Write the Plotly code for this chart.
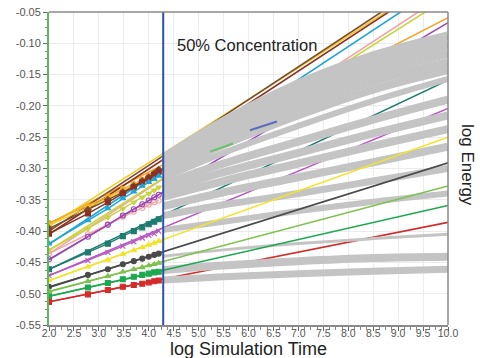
import plotly.graph_objects as go

# ---------------- data ----------------
x_data = [2.0, 2.78, 3.18, 3.48, 3.7, 3.87, 4.0, 4.11, 4.2]
x_fit = [2.0, 10.0]

series_names = ["orange", "gold", "brown", "maroon", "cyan", "pink", "yellowgreen",
                "purple", "teal", "magenta", "yellow", "darkgray", "lightgreen", "green", "red"]
series_colors = ["#f5a524", "#f0cc22", "#7a4a2c", "#8e2f22", "#1ea5d6", "#f2a3a6", "#c8d43c",
                 "#9a45b6", "#1d7b70", "#b658c2", "#f2e42a", "#4a4a4a", "#7cc24c", "#1ca84f", "#d42b2b"]
series_symbols = ["circle", "triangle-up", "diamond", "square", "triangle-up", "circle-open", "triangle-down",
                  "circle-open", "square", "x-thin-open", "triangle-up", "circle", "triangle-up", "square", "square"]
fit_on_top = [False, False, False, False, False, False, False,
              False, False, False, True, True, True, True, False]

data_orange      = [-0.387, -0.360, -0.345, -0.333, -0.325, -0.318, -0.312, -0.307, -0.302]
data_gold        = [-0.391, -0.362, -0.348, -0.336, -0.327, -0.320, -0.314, -0.309, -0.304]
data_brown       = [-0.396, -0.366, -0.350, -0.338, -0.328, -0.320, -0.314, -0.308, -0.302]
data_maroon      = [-0.404, -0.372, -0.354, -0.340, -0.330, -0.322, -0.316, -0.310, -0.305]
data_cyan        = [-0.420, -0.383, -0.364, -0.348, -0.337, -0.328, -0.322, -0.317, -0.312]
data_pink        = [-0.436, -0.405, -0.389, -0.377, -0.369, -0.363, -0.358, -0.354, -0.351]
data_yellowgreen = [-0.430, -0.396, -0.378, -0.364, -0.354, -0.346, -0.340, -0.335, -0.330]
data_purple      = [-0.445, -0.409, -0.390, -0.375, -0.365, -0.357, -0.351, -0.346, -0.342]
data_teal        = [-0.461, -0.434, -0.420, -0.408, -0.400, -0.394, -0.389, -0.385, -0.381]
data_magenta     = [-0.471, -0.447, -0.434, -0.424, -0.417, -0.411, -0.407, -0.404, -0.400]
data_yellow      = [-0.479, -0.457, -0.446, -0.437, -0.431, -0.426, -0.422, -0.419, -0.416]
data_darkgray    = [-0.489, -0.470, -0.461, -0.453, -0.448, -0.444, -0.441, -0.438, -0.436]
data_lightgreen  = [-0.496, -0.480, -0.472, -0.465, -0.461, -0.458, -0.455, -0.453, -0.451]
data_green       = [-0.504, -0.490, -0.483, -0.477, -0.473, -0.470, -0.468, -0.466, -0.465]
data_red         = [-0.513, -0.501, -0.494, -0.489, -0.486, -0.484, -0.482, -0.480, -0.479]

fit_orange      = [-0.388, -0.059]
fit_gold        = [-0.392, 0.013]
fit_brown       = [-0.400, 0.020]
fit_maroon      = [-0.405, 0.012]
fit_cyan        = [-0.421, 0.000]
fit_pink        = [-0.436, -0.019]
fit_yellowgreen = [-0.431, -0.027]
fit_purple      = [-0.446, -0.067]
fit_teal        = [-0.461, -0.159]
fit_magenta     = [-0.471, -0.204]
fit_yellow      = [-0.479, -0.250]
fit_darkgray    = [-0.490, -0.291]
fit_lightgreen  = [-0.497, -0.328]
fit_green       = [-0.504, -0.359]
fit_red         = [-0.513, -0.386]

all_data = [data_orange, data_gold, data_brown, data_maroon, data_cyan, data_pink, data_yellowgreen,
            data_purple, data_teal, data_magenta, data_yellow, data_darkgray, data_lightgreen, data_green, data_red]
all_fit = [fit_orange, fit_gold, fit_brown, fit_maroon, fit_cyan, fit_pink, fit_yellowgreen,
           fit_purple, fit_teal, fit_magenta, fit_yellow, fit_darkgray, fit_lightgreen, fit_green, fit_red]

# gray simulation traces (after 50% concentration)
x_gray = [4.3, 5.5, 7.0, 8.5, 10.0]
gray_bands = [
    [-0.283, -0.225, -0.165, -0.120, -0.088],
    [-0.288, -0.233, -0.177, -0.133, -0.102],
    [-0.294, -0.242, -0.189, -0.146, -0.116],
    [-0.300, -0.252, -0.202, -0.160, -0.131],
    [-0.306, -0.262, -0.215, -0.174, -0.143],
    [-0.315, -0.275, -0.232, -0.192, -0.157],
    [-0.325, -0.292, -0.257, -0.222, -0.190],
    [-0.335, -0.306, -0.275, -0.244, -0.215],
    [-0.345, -0.320, -0.292, -0.264, -0.237],
    [-0.360, -0.338, -0.314, -0.290, -0.265],
    [-0.375, -0.358, -0.340, -0.320, -0.300],
    [-0.398, -0.385, -0.368, -0.353, -0.340],
    [-0.440, -0.430, -0.420, -0.412, -0.405],
    [-0.462, -0.455, -0.448, -0.443, -0.441],
    [-0.478, -0.473, -0.468, -0.464, -0.461],
]
gray_widths = [9, 9, 9, 9, 8, 6, 8, 8, 8, 8, 7, 6, 3, 8, 7]

# short coloured stretches that show above the gray traces
seg_blue_x = [6.03, 6.57]
seg_blue_y = [-0.239, -0.225]
seg_green_x = [5.23, 5.69]
seg_green_y = [-0.273, -0.260]

marker_line_x = 4.29
y_ticks = [-0.55, -0.50, -0.45, -0.40, -0.35, -0.30, -0.25, -0.20, -0.15, -0.10, -0.05]
x_ticks = [2.0, 2.5, 3.0, 3.5, 4.0, 4.5, 5.0, 5.5, 6.0, 6.5, 7.0, 7.5, 8.0, 8.5, 9.0, 9.5, 10.0]

FONT = "Liberation Sans, Arial"

# ---------------- figure ----------------
fig = go.Figure()

def add_fit(fit, col):
    fig.add_trace(go.Scatter(x=x_fit, y=fit, mode="lines", line=dict(color=col, width=1.6),
                             showlegend=False))

# fit lines hidden by the gray simulation traces
for fit, col, top in zip(all_fit, series_colors, fit_on_top):
    if not top:
        add_fit(fit, col)

# gray simulation bands
for band, w in zip(gray_bands, gray_widths):
    fig.add_trace(go.Scatter(x=x_gray, y=band, mode="lines", line=dict(color="#c4c4c4", width=w),
                             line_shape="spline", hoverinfo="skip", showlegend=False))

# fit lines drawn over the gray
for fit, col, top in zip(all_fit, series_colors, fit_on_top):
    if top:
        add_fit(fit, col)

fig.add_trace(go.Scatter(x=seg_blue_x, y=seg_blue_y, mode="lines",
                         line=dict(color="#5a6fb8", width=2), showlegend=False))
fig.add_trace(go.Scatter(x=seg_green_x, y=seg_green_y, mode="lines",
                         line=dict(color="#6cc26a", width=2), showlegend=False))

# data with markers
for dat, col, sym in zip(all_data, series_colors, series_symbols):
    fig.add_trace(go.Scatter(x=x_data, y=dat, mode="lines+markers",
                             line=dict(color=col, width=1.4),
                             marker=dict(symbol=sym, size=5, color=col, line=dict(color=col, width=1.1)),
                             showlegend=False))

fig.add_shape(type="line", xref="x", yref="paper", x0=marker_line_x, x1=marker_line_x, y0=0, y1=1,
              line=dict(color="#2d50a8", width=2))
# right and top border
fig.add_shape(type="line", xref="paper", yref="paper", x0=1, x1=1, y0=0, y1=1,
              line=dict(color="#8a8a8a", width=1.5))
fig.add_shape(type="line", xref="paper", yref="paper", x0=0, x1=1, y0=1, y1=1,
              line=dict(color="#8a8a8a", width=1.5))

fig.add_annotation(x=4.52, y=-0.102, xref="x", yref="y", text="50% Concentration", showarrow=False,
                   xanchor="left", yanchor="middle", font=dict(family=FONT, size=16.5, color="#222"))
fig.add_annotation(x=1.0, y=0.511, xref="paper", yref="paper", xshift=20, text="log Energy", showarrow=False,
                   textangle=90, xanchor="center", yanchor="middle",
                   font=dict(family=FONT, size=17, color="#222"))
fig.add_annotation(x=0.5, y=0, xref="paper", yref="paper", yshift=-24, text="log Simulation Time",
                   showarrow=False, xanchor="center", yanchor="middle", borderpad=0,
                   font=dict(family=FONT, size=18, color="#222"))

fig.update_layout(
    width=483, height=358,
    margin=dict(l=49, r=35, t=12, b=33),
    plot_bgcolor="white", paper_bgcolor="white",
    xaxis=dict(range=[2, 10], tickvals=x_ticks, ticktext=[f"{v:.1f}" for v in x_ticks],
               showgrid=True, gridcolor="#ececec", gridwidth=1, automargin=False,
               showline=True, linecolor="#8a8a8a", linewidth=1.5,
               ticks="outside", ticklen=4, tickcolor="#666", ticklabelstandoff=-6,
               minor=dict(ticks="outside", ticklen=3, tickcolor="#888", dtick=0.125, showgrid=False),
               tickfont=dict(family=FONT, size=10.5, color="#555"),
               zeroline=False),
    yaxis=dict(range=[-0.55, -0.05], tickvals=y_ticks, ticktext=[f"{v:.2f}" for v in y_ticks],
               showgrid=True, gridcolor="#ececec", gridwidth=1, automargin=False,
               showline=True, linecolor="#5cb85c", linewidth=2,
               ticks="outside", ticklen=4, tickcolor="#666",
               minor=dict(ticks="outside", ticklen=2, tickcolor="#888", dtick=0.0125, showgrid=False),
               tickfont=dict(family=FONT, size=11, color="#555"),
               zeroline=False),
)

fig.write_html("out.html")
